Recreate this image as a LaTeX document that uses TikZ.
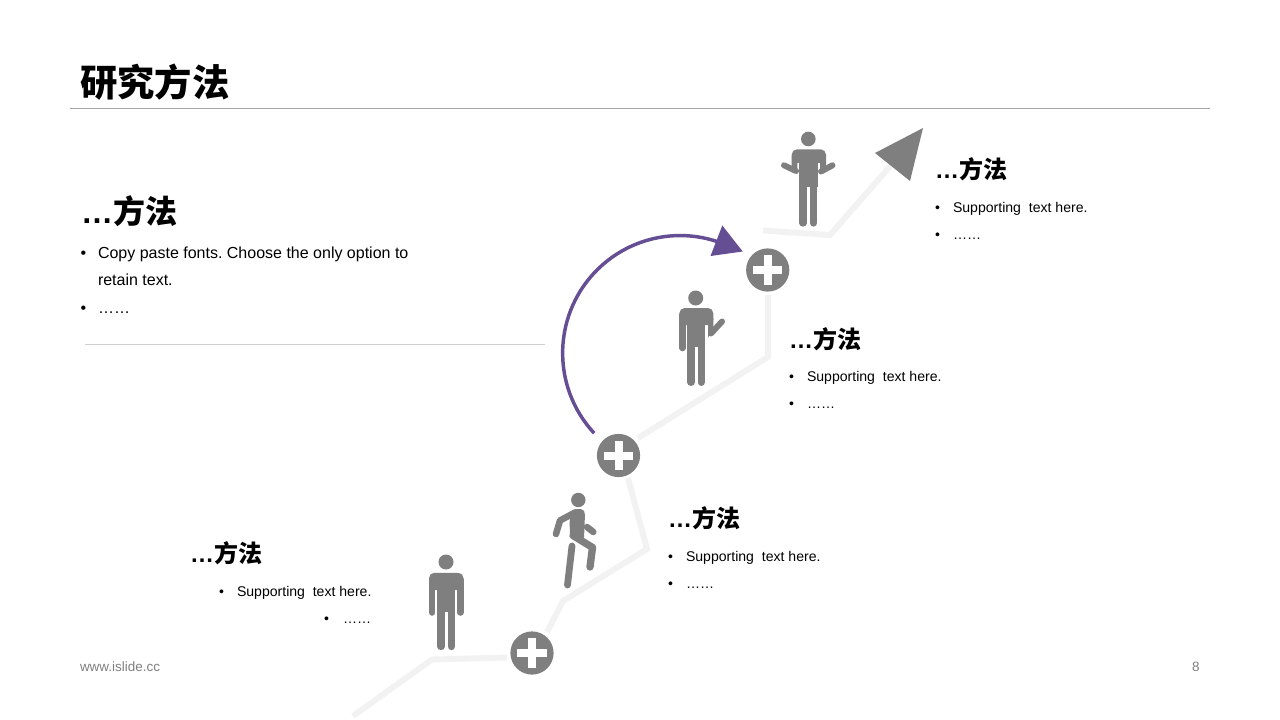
\documentclass[tikz,border=0pt]{standalone}
\usepackage{fontspec}
\setmainfont{Liberation Sans}
\newfontfamily\cjk{Noto Sans CJK SC}
\AtBeginDocument{\frenchspacing}
\definecolor{figgray}{HTML}{7F7F7F}
\definecolor{pathgray}{HTML}{F2F2F2}
\definecolor{arcpurple}{HTML}{664E94}
\definecolor{rulegray}{HTML}{A6A6A6}
\definecolor{softrule}{HTML}{D0D0D0}
\definecolor{footgray}{HTML}{808080}
\tikzset{
  txt/.style={anchor=base west,inner sep=0pt,outer sep=0pt,text=black},
  titletxt/.style={txt,font=\cjk\bfseries\fontsize{28}{28}\selectfont},
  bighead/.style={txt,font=\bfseries\fontsize{24}{24}\selectfont},
  smallhead/.style={txt,font=\bfseries\fontsize{18}{18}\selectfont},
  bigbody/.style={txt,font=\fontsize{12}{12}\selectfont},
  smallbody/.style={txt,font=\fontsize{10.55}{10.55}\selectfont},
  foot/.style={txt,text=footgray,font=\fontsize{10.1}{10.1}\selectfont},
  road/.style={draw=pathgray,line width=4.4pt,line join=miter},
  limb/.style={draw=figgray,line width=4.9pt,line cap=round,line join=round},
  leg/.style={draw=figgray,line width=5.5pt,line cap=round,line join=round},
  thinlimb/.style={draw=figgray,line width=4.5pt,line cap=round,line join=round},
  plusnode/.style={circle,fill=figgray,draw=none,minimum size=32.4pt,inner sep=0pt},
  plusbar/.style={draw=white,line width=6pt},
}
\newcommand{\hd}[1]{{\cjk #1}}
\begin{document}
\begin{tikzpicture}[x=0.75pt,y=-0.75pt]
\useasboundingbox (0,0) rectangle (1280,720);
\fill[white] (0,0) rectangle (1280,720);
% rules
\coordinate (r1a) at (70,108.5); \coordinate (r1b) at (1210,108.5);
\draw[rulegray,line width=0.8pt] (r1a) -- (r1b);
\coordinate (r2a) at (85,344.5); \coordinate (r2b) at (545,344.5);
\draw[softrule,line width=0.7pt] (r2a) -- (r2b);
% road coordinates
\coordinate (a0) at (353,716); \coordinate (a1) at (432,659.5); \coordinate (a2) at (507,657.5);
\coordinate (b0) at (547,632); \coordinate (b1) at (563,601); \coordinate (b2) at (647,549); \coordinate (b3) at (628,478);
\coordinate (c0) at (638,438); \coordinate (c1) at (768,357); \coordinate (c2) at (768,295);
\coordinate (d0) at (763,230.5); \coordinate (d1) at (830,235); \coordinate (d2) at (892,164);
\draw[road] (a0) -- (a1) -- (a2);
\draw[road] (b0) -- (b1) -- (b2) -- (b3);
\draw[road] (c0) -- (c1) -- (c2);
\draw[road] (d0) -- (d1) -- (d2);
% big grey arrow head
\fill[figgray] (875,153) -- (923,128) -- (910,181) -- cycle;
% plus nodes
\node[plusnode] (p1) at (532,653) {};
\node[plusnode] (p2) at (618.5,455.5) {};
\node[plusnode] (p3) at (767.7,270) {};
\foreach \n in {p1,p2,p3}{
  \draw[plusbar] ([xshift=-10.9pt]\n.center) -- ([xshift=10.9pt]\n.center);
  \draw[plusbar] ([yshift=-10.9pt]\n.center) -- ([yshift=10.9pt]\n.center);
}
% purple arc
\coordinate (arcstart) at (594.2,433.2);
\draw[arcpurple,line width=2.6pt] (arcstart) arc[start angle=137,end angle=291,radius=117.5];
\fill[arcpurple] (742.7,251.5) -- (710.5,256) -- (722.3,225.5) -- cycle;
% person 1 standing
\fill[figgray] (446,562) circle (7.5);
\fill[figgray,rounded corners=4pt] (429,590) -- (429,572.8) -- (463.5,572.8) -- (463.5,590) -- cycle;
\fill[figgray] (437.3,580) rectangle (455,612);
\draw[limb] (432.2,580) -- (432.2,612.5);
\draw[limb] (460.3,580) -- (460.3,612.5);
\draw[leg] (441,600) -- (441,646.5);
\draw[leg] (451.3,600) -- (451.3,646.5);
% person 2 walking
\fill[figgray] (578.3,500) circle (7.2);
\draw[limb] (575,512.5) -- (560,520.5) -- (556,534);
\fill[figgray,rounded corners=1.5pt] (573,509.3) -- (583,509) -- (585,513) -- (584,539) -- (570,535) -- (569.5,520) -- cycle;
\draw[limb] (587,527) -- (593.3,532);
\draw[leg] (573,535.5) -- (592.5,547.5) -- (590,567);
\draw[leg,line width=5.1pt] (572,546) -- (567.5,585);
% person 3 with raised hand
\fill[figgray] (695.7,298) circle (7.5);
\fill[figgray,rounded corners=4pt] (679.3,325) -- (679.3,308) -- (713.3,308) -- (713.3,325) -- cycle;
\fill[figgray] (687.3,315) rectangle (705,347);
\draw[limb] (682.5,315) -- (682.5,348);
\fill[figgray] (708,318) -- (713.3,318) -- (713.3,327) -- (708,338) -- cycle;
\draw[thinlimb] (711,333.5) -- (722,321.5);
\draw[leg] (691,340) -- (691,382.3);
\draw[leg] (701.2,340) -- (701.2,382.3);
% person 4 shrugging
\fill[figgray] (808.3,139) circle (7.3);
\fill[figgray,rounded corners=4pt] (791.7,163) -- (791.7,149.3) -- (826,149.3) -- (826,163) -- cycle;
\fill[figgray] (799.3,155) rectangle (817.7,187);
\fill[figgray] (791.7,158) -- (797.3,158) -- (797.3,172) -- (791.7,168) -- cycle;
\fill[figgray] (820,158) -- (826,158) -- (826,168) -- (820,172.5) -- cycle;
\draw[thinlimb] (784,165.3) -- (796,171);
\draw[thinlimb] (832.5,165.3) -- (821,171.5);
\draw[leg] (803,180) -- (803,223);
\draw[leg] (813.6,180) -- (813.6,223);
% texts
\node[titletxt] (title) at (80,96.5) {研究方法};
\node[bighead] (h0) at (81,223.2) {…\hd{方法}};
\node[bigbody] (b0a) at (80.5,258.5) {•};
\node[bigbody] (t0a) at (98,258.5) {Copy paste fonts. Choose the only option to};
\node[bigbody] (t0b) at (98,285.5) {retain text.};
\node[bigbody] (b0c) at (80.5,313) {•};
\node[bigbody] (t0c) at (98,313) {……};
% group A
\node[smallhead] (h1) at (935,178.6) {…\hd{方法}};
\node[smallbody] (b1a) at (935,212.6) {•};
\node[smallbody] (t1a) at (953,212.6) {Supporting\ \ text here.};
\node[smallbody] (b1b) at (935,239.6) {•};
\node[smallbody] (t1b) at (953,239.6) {……};
% group B
\node[smallhead] (h2) at (789,348) {…\hd{方法}};
\node[smallbody] (b2a) at (789,381.6) {•};
\node[smallbody] (t2a) at (807,381.6) {Supporting\ \ text here.};
\node[smallbody] (b2b) at (789,408.6) {•};
\node[smallbody] (t2b) at (807,408.6) {……};
% group C
\node[smallhead] (h3) at (668,527.4) {…\hd{方法}};
\node[smallbody] (b3a) at (668,561.6) {•};
\node[smallbody] (t3a) at (686,561.6) {Supporting\ \ text here.};
\node[smallbody] (b3b) at (668,588.6) {•};
\node[smallbody] (t3b) at (686,588.6) {……};
% group D
\node[smallhead] (h4) at (190,562.4) {…\hd{方法}};
\node[smallbody] (b4a) at (219,596.6) {•};
\node[smallbody] (t4a) at (237,596.6) {Supporting\ \ text here.};
\node[smallbody] (b4b) at (324,623.6) {•};
\node[smallbody] (t4b) at (343,623.6) {……};
% footer
\node[foot] (f1) at (80,671) {www.islide.cc};
\node[foot] (f2) at (1192,671) {8};
\end{tikzpicture}
\end{document}
